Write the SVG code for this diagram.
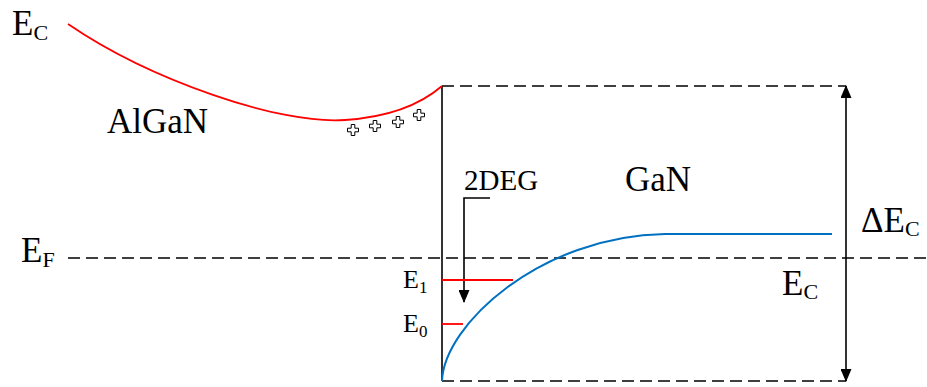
<svg xmlns="http://www.w3.org/2000/svg" width="927" height="387" viewBox="0 0 927 387">
<style>
.t{font-family:"Liberation Serif","DejaVu Serif",serif;fill:#000}
.big{font-size:35px}
.mid{font-size:29px}
.sm{font-size:26px}
.sub{font-size:22px}
.sub2{font-size:17px}
.dash{stroke:#000;stroke-width:1.6;stroke-dasharray:12 6;fill:none}
.ln{stroke:#000;stroke-width:1.6;fill:none}
.red{stroke:#ff0000;stroke-width:1.8;fill:none}
.blue{stroke:#0070c0;stroke-width:2;fill:none}
</style>
<defs>
<marker id="ah" markerWidth="13" markerHeight="11" refX="12" refY="5.5" orient="auto-start-reverse" markerUnits="userSpaceOnUse">
<path d="M0,0 L13,5.5 L0,11 z" fill="#000"/>
</marker>
<path id="plus" d="M-1.8,-5.5 h3.6 v3.7 h3.7 v3.6 h-3.7 v3.7 h-3.6 v-3.7 h-3.7 v-3.6 h3.7 z" fill="#fff" stroke="#000" stroke-width="1"/>
</defs>
<g id="connectors">
<path class="dash" d="M442,86 H846"/>
<path class="dash" d="M442,381 H846"/>
<path class="dash" d="M68,258 H927"/>
<path class="ln" d="M442,86 V381"/>
<path class="ln" d="M846,86 V381" marker-start="url(#ah)" marker-end="url(#ah)"/>
<path class="ln" d="M490,198 H464 V302" marker-end="url(#ah)"/>
</g>
<g id="ec-algan"><path class="red" d="M68,24 C150,80 280,125 345,120 C390,117 420,105 442,86"/></g>
<g id="ec-gan"><path class="blue" d="M442,381 C444,325 540,236 665,234 H832"/></g>
<g id="levels">
<path class="red" d="M442,280 H513"/>
<path class="red" d="M442,324 H463"/>
</g>
<g id="charges">
<use href="#plus" x="353" y="130"/>
<use href="#plus" x="375" y="126"/>
<use href="#plus" x="398" y="122"/>
<use href="#plus" x="419" y="115"/>
</g>
<g id="labels">
<text class="t big" x="12" y="35">E<tspan class="sub" dy="5">C</tspan></text>
<text class="t big" x="107" y="133">AlGaN</text>
<text class="t big" x="625" y="191">GaN</text>
<text class="t mid" x="464" y="190">2DEG</text>
<text class="t big" x="861" y="232">ΔE<tspan class="sub" dy="4">C</tspan></text>
<text class="t big" x="782" y="295">E<tspan class="sub" dy="4">C</tspan></text>
<text class="t big" x="21" y="262">E<tspan class="sub" dy="5">F</tspan></text>
<text class="t sm" x="403" y="288">E<tspan class="sub2" dy="5">1</tspan></text>
<text class="t sm" x="403" y="332">E<tspan class="sub2" dy="5">0</tspan></text>
</g>
</svg>
